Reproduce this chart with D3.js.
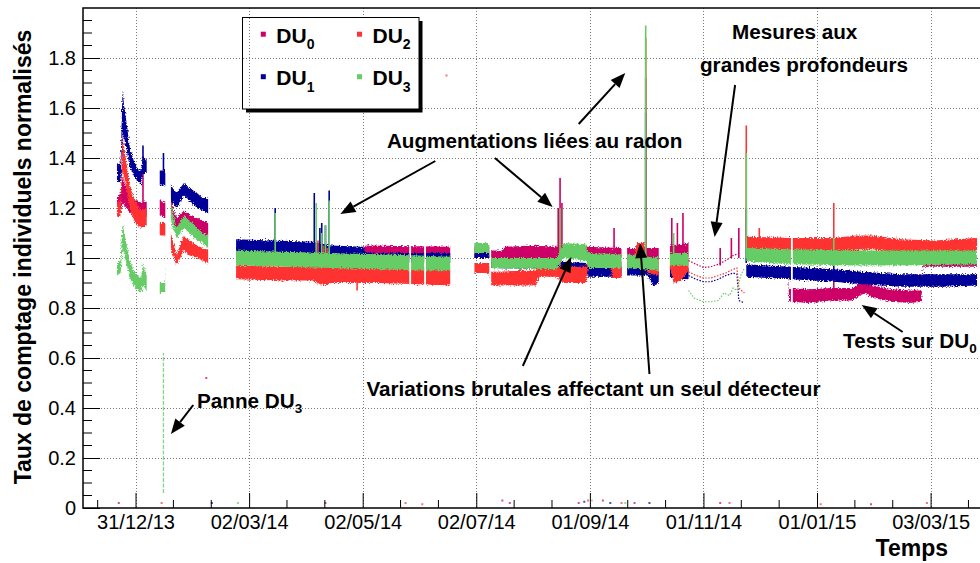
<!DOCTYPE html>
<html><head><meta charset="utf-8">
<script src="https://cdn.jsdelivr.net/npm/d3@7"></script>
<style>
html,body{margin:0;padding:0;background:#fff;}
svg{display:block;font-family:"Liberation Sans",Arial,Helvetica,sans-serif;}
</style></head><body>
<svg id="chart" width="980" height="563"></svg>
<script>
// ---- detectors ----
const seriesNames = ["DU", "DU", "DU", "DU"];
const seriesSubs = ["0", "1", "2", "3"];

// ---- axis ticks ----
const tickDates = ["2013-12-31","2014-03-02","2014-05-02","2014-07-02","2014-09-01","2014-11-01","2015-01-01","2015-03-03"];
const tickLabels = ["31/12/13","02/03/14","02/05/14","02/07/14","01/09/14","01/11/14","01/01/15","03/03/15"];
const yTickValues = [0,0.2,0.4,0.6,0.8,1,1.2,1.4,1.6,1.8];
const yTickLabels = ["0","0.2","0.4","0.6","0.8","1","1.2","1.4","1.6","1.8"];

// ---- acquisition periods (start, end) ----
const runs = [
  ["2013-12-21","2014-01-06"],["2014-01-13","2014-01-16"],["2014-01-19","2014-02-08"],
  ["2014-02-23","2014-05-27"],["2014-05-28","2014-06-04"],["2014-06-05","2014-06-18"],
  ["2014-07-01","2014-07-09"],["2014-07-10","2014-09-18"],["2014-09-21","2014-10-08"],
  ["2014-10-14","2014-10-24"],["2014-11-24","2014-12-18"],["2014-12-19","2015-03-28"]
];

// ---- normalised counting rate bands: [date, low, high] ----
const du0Band = [
  ["2013-12-21",1.17,1.24],["2013-12-23",1.18,1.26],["2013-12-24",1.22,1.33],["2013-12-26",1.20,1.28],
  ["2013-12-28",1.18,1.25],["2013-12-31",1.16,1.23],["2014-01-03",1.16,1.22],["2014-01-06",1.17,1.23],
  ["2014-01-13",1.17,1.23],["2014-01-16",1.16,1.22],
  ["2014-01-19",1.16,1.23],["2014-01-22",1.11,1.16],["2014-01-26",1.14,1.19],["2014-01-29",1.13,1.17],
  ["2014-02-02",1.11,1.16],["2014-02-05",1.10,1.15],["2014-02-08",1.09,1.14],
  ["2014-02-23",0.99,1.04],["2014-05-02",0.99,1.04],["2014-05-04",1.0,1.05],["2014-06-18",0.995,1.045],
  ["2014-07-01",1.0,1.05],["2014-07-09",1.0,1.045],["2014-07-10",0.99,1.03],["2014-07-16",0.99,1.03],
  ["2014-07-17",1.0,1.045],["2014-08-01",1.0,1.05],["2014-08-14",1.0,1.045],["2014-08-18",1.0,1.05],
  ["2014-08-30",1.0,1.045],["2014-09-18",1.0,1.04],["2014-09-21",1.0,1.04],["2014-10-08",0.99,1.04],
  ["2014-10-14",1.0,1.05],["2014-10-24",1.0,1.06],
  ["2014-11-24",1.03,1.07],["2014-12-16",1.03,1.07],["2014-12-17",0.825,0.88],["2014-12-28",0.82,0.875],
  ["2015-01-08",0.83,0.88],["2015-01-20",0.83,0.88],["2015-01-24",0.85,0.90],["2015-01-27",0.86,0.915],
  ["2015-01-31",0.84,0.89],["2015-02-10",0.825,0.875],["2015-02-20",0.82,0.87],["2015-02-26",0.825,0.87],
  ["2015-02-27",0.965,1.0],["2015-03-28",0.965,1.0]
];
const du1Band = [
  ["2013-12-21",1.30,1.37],["2013-12-23",1.31,1.38],["2013-12-24",1.50,1.67],["2013-12-25",1.48,1.60],
  ["2013-12-26",1.44,1.55],["2013-12-28",1.36,1.44],["2013-12-30",1.33,1.39],["2014-01-01",1.31,1.36],
  ["2014-01-03",1.29,1.35],["2014-01-04",1.34,1.41],["2014-01-06",1.34,1.39],
  ["2014-01-13",1.29,1.35],["2014-01-16",1.29,1.35],
  ["2014-01-19",1.23,1.29],["2014-01-22",1.20,1.26],["2014-01-26",1.25,1.30],["2014-01-29",1.23,1.28],
  ["2014-02-02",1.20,1.26],["2014-02-05",1.19,1.24],["2014-02-08",1.18,1.24],
  ["2014-02-23",1.025,1.075],["2014-03-15",1.025,1.07],["2014-04-05",1.02,1.065],["2014-04-15",1.005,1.05],
  ["2014-05-02",1.0,1.045],["2014-05-04",0.985,1.02],["2014-06-18",0.98,1.02],
  ["2014-07-01",1.0,1.02],["2014-07-09",1.0,1.02],["2014-07-10",0.96,0.99],["2014-08-14",0.955,0.985],
  ["2014-08-18",0.95,0.985],["2014-08-30",0.945,0.98],["2014-08-31",0.925,0.965],["2014-09-18",0.925,0.965],
  ["2014-09-21",0.93,0.975],["2014-10-02",0.93,0.97],["2014-10-05",0.89,0.94],["2014-10-08",0.90,0.95],
  ["2014-10-14",0.92,0.97],["2014-10-24",0.915,0.96],
  ["2014-11-24",0.925,0.975],["2014-12-18",0.915,0.965],["2015-01-10",0.905,0.955],["2015-01-25",0.895,0.945],
  ["2015-02-15",0.885,0.935],["2015-03-10",0.885,0.935],["2015-03-28",0.89,0.935]
];
const du2Band = [
  ["2013-12-21",1.16,1.22],["2013-12-23",1.17,1.23],["2013-12-24",1.35,1.49],["2013-12-25",1.32,1.44],
  ["2013-12-26",1.28,1.39],["2013-12-28",1.19,1.29],["2013-12-30",1.15,1.24],["2014-01-01",1.13,1.21],
  ["2014-01-03",1.12,1.19],["2014-01-06",1.13,1.20],
  ["2014-01-13",1.09,1.14],["2014-01-16",1.09,1.14],
  ["2014-01-19",1.03,1.10],["2014-01-22",0.97,1.01],["2014-01-26",1.03,1.09],["2014-01-29",1.01,1.07],
  ["2014-02-02",1.0,1.05],["2014-02-05",0.99,1.04],["2014-02-08",0.98,1.03],
  ["2014-02-23",0.915,0.97],["2014-03-20",0.91,0.965],["2014-04-05",0.91,0.965],["2014-04-07",0.90,1.0],
  ["2014-04-12",0.89,1.02],["2014-04-15",0.90,0.965],["2014-05-10",0.90,0.965],["2014-06-01",0.895,0.96],
  ["2014-06-18",0.89,0.955],
  ["2014-07-01",0.94,0.98],["2014-07-09",0.94,0.98],["2014-07-10",0.89,0.945],["2014-08-03",0.89,0.95],
  ["2014-08-05",0.925,0.965],["2014-08-14",0.925,0.965],["2014-08-18",0.90,0.965],["2014-08-30",0.90,0.965],
  ["2014-08-31",0.965,1.0],["2014-09-12",0.965,1.0],["2014-09-13",0.92,0.985],["2014-09-18",0.92,0.985],
  ["2014-09-21",0.97,1.0],["2014-09-25",0.97,1.0],["2014-09-26",1.0,1.06],["2014-09-30",1.0,1.06],
  ["2014-10-02",0.94,0.99],["2014-10-08",0.93,0.99],
  ["2014-10-14",0.96,1.0],["2014-10-16",0.90,0.98],["2014-10-20",0.91,0.97],["2014-10-24",0.95,1.0],
  ["2014-11-24",1.025,1.085],["2014-12-18",1.025,1.08],["2015-01-10",1.025,1.08],["2015-01-22",1.03,1.09],
  ["2015-01-30",1.035,1.09],["2015-02-15",1.02,1.075],["2015-03-05",1.02,1.07],["2015-03-28",1.025,1.08]
];
const du3Band = [
  ["2013-12-21",0.93,0.98],["2013-12-23",0.94,0.99],["2013-12-24",1.04,1.14],["2013-12-25",1.01,1.10],
  ["2013-12-26",0.98,1.06],["2013-12-28",0.92,0.99],["2013-12-30",0.89,0.95],["2014-01-01",0.87,0.93],
  ["2014-01-03",0.86,0.92],["2014-01-04",0.89,0.98],["2014-01-06",0.87,0.93],
  ["2014-01-13",0.86,0.90],["2014-01-16",0.86,0.90],
  ["2014-01-19",1.15,1.22],["2014-01-22",1.08,1.12],["2014-01-26",1.12,1.17],["2014-01-29",1.10,1.15],
  ["2014-02-02",1.07,1.12],["2014-02-05",1.06,1.10],["2014-02-08",1.04,1.09],
  ["2014-02-23",0.97,1.03],["2014-03-20",0.965,1.025],["2014-04-15",0.96,1.02],["2014-05-10",0.955,1.015],
  ["2014-06-01",0.95,1.01],["2014-06-18",0.95,1.005],
  ["2014-07-01",1.02,1.06],["2014-07-09",1.02,1.06],["2014-07-10",0.96,1.0],["2014-08-14",0.955,1.0],
  ["2014-08-18",1.0,1.06],["2014-08-30",0.99,1.055],["2014-08-31",0.96,1.02],["2014-09-18",0.96,1.015],
  ["2014-09-21",0.96,1.015],["2014-10-08",0.95,1.0],["2014-10-14",0.97,1.02],["2014-10-24",0.97,1.02],
  ["2014-11-24",0.985,1.04],["2014-12-18",0.975,1.035],["2015-01-20",0.97,1.03],["2015-02-15",0.97,1.03],
  ["2015-03-28",0.975,1.03]
];

// ---- short excursions: [date, from, to] ----
const du0Spikes = [
  ["2014-01-04",1.22,1.37],["2014-08-15",1.03,1.20],["2014-08-16",1.03,1.32],["2014-08-17",1.03,1.22],
  ["2014-09-14",1.03,1.12],["2014-10-01",1.0,1.72],["2014-10-15",1.03,1.16],["2014-10-18",1.03,1.14],
  ["2014-10-21",1.03,1.18],["2014-11-10",0.97,1.04],["2014-11-16",1.0,1.08],["2014-11-20",1.0,1.12],
  ["2015-01-10",0.87,0.93]
];
const du1Spikes = [
  ["2014-01-04",1.38,1.45],["2014-01-15",1.35,1.42],["2014-03-16",1.06,1.20],["2014-04-06",1.06,1.26],
  ["2014-04-09",1.05,1.12],["2014-04-10",1.05,1.14],["2014-04-12",1.05,1.13],["2014-04-14",1.05,1.27],
  ["2014-10-01",0.98,1.58],["2014-11-24",0.98,1.20],["2015-01-10",0.94,0.99]
];
const du2Spikes = [
  ["2014-04-08",0.97,1.07],["2014-04-11",0.97,1.05],["2014-04-13",0.97,1.04],["2014-04-29",0.87,0.93],
  ["2014-08-16",0.97,1.17],["2014-10-01",1.0,1.88],["2014-11-24",1.05,1.53],["2014-12-01",1.08,1.12],
  ["2015-01-10",1.08,1.22]
];
const du3Spikes = [
  ["2014-03-16",1.0,1.18],["2014-04-07",1.0,1.22],["2014-04-10",1.0,1.10],["2014-04-12",1.0,1.13],
  ["2014-04-14",1.0,1.23],["2014-08-16",1.0,1.20],["2014-10-01",1.0,1.93],["2014-10-16",1.0,1.10],
  ["2014-11-24",1.0,1.42],["2015-01-10",1.0,1.08]
];

// ---- low-statistics period (deep measurements): [date, value] ----
const du0Sparse = [["2014-10-24",0.99],["2014-10-28",0.975],["2014-11-01",0.962],["2014-11-05",0.965],["2014-11-09",0.975],["2014-11-13",0.99],["2014-11-17",1.01],["2014-11-21",1.02]];
const du1Sparse = [["2014-10-24",0.93],["2014-10-28",0.915],["2014-11-01",0.905],["2014-11-05",0.905],["2014-11-09",0.915],["2014-11-13",0.93],["2014-11-17",0.94],["2014-11-19",0.935],["2014-11-20",0.83],["2014-11-23",0.82]];
const du2Sparse = [["2014-10-24",0.945],["2014-10-28",0.93],["2014-11-01",0.92],["2014-11-05",0.92],["2014-11-09",0.93],["2014-11-13",0.94],["2014-11-17",0.955],["2014-11-19",0.96],["2014-11-20",0.88],["2014-11-23",0.86]];
const du3Sparse = [["2014-10-24",0.87],["2014-10-27",0.84],["2014-11-01",0.825],["2014-11-05",0.825],["2014-11-09",0.83],["2014-11-12",0.86],["2014-11-15",0.85],["2014-11-17",0.88],["2014-11-19",0.87],["2014-11-21",0.93],["2014-11-23",0.96]];

// ---- DU3 failure (readings falling to the floor) ----
const du3Failure = [["2014-01-15",0.06,0.62]];

// ---- isolated readings: [date, value] ----
const du0Stray = [["2013-12-22",0.02],["2014-02-07",0.52],["2014-04-12",0.02],["2014-07-16",0.03],["2014-07-20",0.02],["2014-08-26",0.02],["2014-09-08",0.03],["2014-09-25",0.02],["2014-11-10",0.02],["2015-01-30",0.015]];
const du1Stray = [["2014-02-10",0.02],["2014-08-29",0.025],["2014-09-12",0.02],["2014-10-03",0.02]];
const du2Stray = [["2014-01-14",0.02],["2014-05-25",0.02],["2014-06-03",0.015],["2014-06-16",1.73],["2014-08-31",0.03],["2014-09-18",0.02],["2014-11-15",0.02],["2015-01-03",0.015],["2015-03-01",0.02]];
const du3Stray = [["2014-02-24",0.02],["2014-09-02",0.03],["2014-09-20",0.02]];

// ---- annotations: text in data coordinates ----
const notes = [
  {text:"Augmentations liées au radon", date:"2014-05-15", value:1.439, anchor:"start"},
  {text:"Mesures aux", date:"2014-12-20", value:1.876, anchor:"middle"},
  {text:"grandes profondeurs", date:"2014-12-25", value:1.744, anchor:"middle"},
  {text:"Tests sur DU", sub:"0", date:"2015-01-15", value:0.639, anchor:"start"},
  {text:"Variations brutales affectant un seul détecteur", date:"2014-05-04", value:0.449, anchor:"start"},
  {text:"Panne DU", sub:"3", date:"2014-02-02", value:0.399, anchor:"start"}
];
// arrows: [fromDate, fromValue, toDate, toValue]
const arrows = [
  ["2014-06-10",1.388,"2014-04-20",1.176],
  ["2014-07-12",1.40,"2014-08-12",1.204],
  ["2014-08-26",1.536,"2014-09-20",1.74],
  ["2014-11-18",1.692,"2014-11-07",1.084],
  ["2015-02-16",0.704,"2015-01-25",0.812],
  ["2014-07-27",0.568,"2014-08-22",1.004],
  ["2014-10-03",0.536,"2014-09-28",1.06],
  ["2014-01-31",0.412,"2014-01-19",0.296]
];

// =================== drawing ===================
const colors = ["#cc0066","#000099","#ff3333","#66cc66"];
const parse = d3.timeParse("%Y-%m-%d");
const svg = d3.select("#chart");
const frame = {left:83, right:984, top:8, bottom:508};

const x = d3.scaleTime()
  .domain([parse("2013-12-03"), parse("2015-04-01")])
  .range([83.4, 984.6]);
const y = d3.scaleLinear().domain([0, 2]).range([508, 8]);

const defs = svg.append("defs");
const clip = defs.append("clipPath").attr("id","runs");
runs.forEach(r => {
  const a = x(parse(r[0])), b = x(parse(r[1]));
  clip.append("rect").attr("x", a).attr("y", frame.top).attr("width", b - a).attr("height", frame.bottom - frame.top);
});
// ragged edges of the counting-rate bands
const grain = defs.append("filter").attr("id","grain")
  .attr("filterUnits","userSpaceOnUse").attr("x",0).attr("y",0).attr("width",980).attr("height",563);
grain.append("feTurbulence").attr("type","fractalNoise").attr("baseFrequency","0.75")
  .attr("numOctaves",2).attr("seed",5).attr("result","n");
grain.append("feDisplacementMap").attr("in","SourceGraphic").attr("in2","n")
  .attr("scale",5).attr("xChannelSelector","R").attr("yChannelSelector","G");

// grid
const grid = svg.append("g").attr("stroke","#7a7a7a").attr("stroke-width",1).attr("stroke-dasharray","1 2");
tickDates.forEach(d => {
  const px = Math.round(x(parse(d))) + 0.5;
  grid.append("line").attr("x1",px).attr("x2",px).attr("y1",frame.top).attr("y2",frame.bottom);
});
yTickValues.filter(v => v > 0).forEach(v => {
  const py = Math.round(y(v)) + 0.5;
  grid.append("line").attr("x1",frame.left).attr("x2",frame.right).attr("y1",py).attr("y2",py);
});

// series
const bands = [du0Band, du1Band, du2Band, du3Band];
const spikes = [du0Spikes, du1Spikes, du2Spikes, du3Spikes];
const sparse = [du0Sparse, du1Sparse, du2Sparse, du3Sparse];
const strays = [du0Stray, du1Stray, du2Stray, du3Stray];

const area = d3.area()
  .x(d => x(parse(d[0])))
  .y0(d => y(d[1]))
  .y1(d => y(d[2]));
const line = d3.line().x(d => x(parse(d[0]))).y(d => y(d[1]));

const data = svg.append("g");
bands.forEach((band, i) => {
  const g = data.append("g");
  g.append("g").attr("clip-path","url(#runs)")
    .append("g").attr("filter","url(#grain)")
    .append("path").attr("d", area(band)).attr("fill", colors[i]);
  g.selectAll("line.spike").data(spikes[i]).join("line").attr("class","spike")
    .attr("x1", d => x(parse(d[0]))).attr("x2", d => x(parse(d[0])))
    .attr("y1", d => y(d[1])).attr("y2", d => y(d[2]))
    .attr("stroke", colors[i]).attr("stroke-width", 1.6);
});
sparse.forEach((s, i) => {
  data.append("path").attr("d", line(s)).attr("fill","none")
    .attr("stroke", colors[i]).attr("stroke-width", 1.2).attr("stroke-dasharray","1.5 1.5");
});
data.selectAll("line.fail").data(du3Failure).join("line").attr("class","fail")
  .attr("x1", d => x(parse(d[0]))).attr("x2", d => x(parse(d[0])))
  .attr("y1", d => y(d[1])).attr("y2", d => y(d[2]))
  .attr("stroke", colors[3]).attr("stroke-width", 1.3).attr("stroke-dasharray","4 1.5").attr("opacity",0.8);
strays.forEach((s, i) => {
  data.append("g").selectAll("rect").data(s).join("rect")
    .attr("x", d => x(parse(d[0])) - 1).attr("y", d => y(d[1]) - 1)
    .attr("width", 2).attr("height", 2).attr("fill", colors[i]).attr("opacity", 0.7);
});

// axes
const axisFont = g => g.attr("font-family","'Liberation Sans',Arial,sans-serif").attr("font-size",20);
const yAxis = svg.append("g").attr("transform",`translate(${frame.left},0)`)
  .call(d3.axisLeft(y).tickValues(yTickValues).tickFormat((d,i) => yTickLabels[i])
    .tickSizeInner(-17).tickSizeOuter(0).tickPadding(7))
  .call(axisFont);
yAxis.select(".domain").remove();
yAxis.selectAll("text").attr("fill","#000");
const yMinor = d3.range(0, 2.0001, 0.05).filter(v => Math.abs(v*5 - Math.round(v*5)) > 1e-6);
svg.append("g").selectAll("line").data(yMinor).join("line")
  .attr("x1", frame.left).attr("x2", frame.left + 9)
  .attr("y1", d => y(d)).attr("y2", d => y(d)).attr("stroke","#000");

const xAxis = svg.append("g").attr("transform",`translate(0,${frame.bottom})`)
  .call(d3.axisBottom(x).tickValues(tickDates.map(parse)).tickFormat((d,i) => tickLabels[i])
    .tickSizeInner(-15).tickSizeOuter(0).tickPadding(7))
  .call(axisFont);
xAxis.select(".domain").remove();
xAxis.selectAll("text").attr("fill","#000");
const t0 = parse(tickDates[0]).getTime(), t1 = parse(tickDates[1]).getTime();
const step = (t1 - t0) / 3;
const xMinor = d3.range(-3, tickDates.length * 3 + 3).filter(k => k % 3 !== 0)
  .map(k => new Date(t0 + k * step))
  .filter(d => x(d) > frame.left + 1 && x(d) < frame.right);
svg.append("g").selectAll("line").data(xMinor).join("line")
  .attr("x1", d => x(d)).attr("x2", d => x(d))
  .attr("y1", frame.bottom).attr("y2", frame.bottom - 8).attr("stroke","#000");

// frame
svg.append("path")
  .attr("d", `M${frame.right},${frame.top}H${frame.left}V${frame.bottom}H${frame.right}`)
  .attr("fill","none").attr("stroke","#000").attr("stroke-width",1.5);

// axis titles
svg.append("text").attr("transform","translate(31,257) rotate(-90)")
  .attr("text-anchor","middle").attr("font-size",23).attr("font-weight","bold")
  .text("Taux de comptage individuels normalisés");
svg.append("text").attr("x",948).attr("y",556).attr("text-anchor","end")
  .attr("font-size",23).attr("font-weight","bold").text("Temps");

// legend
const leg = svg.append("g");
leg.append("rect").attr("x",246).attr("y",21).attr("width",176.5).attr("height",91.5).attr("fill","#000");
leg.append("rect").attr("x",242.5).attr("y",17.5).attr("width",176.5).attr("height",91.5)
  .attr("fill","#fff").attr("stroke","#000").attr("stroke-width",1);
const legPos = [[263.3,34.2],[263.3,76.7],[359.5,34.2],[359.5,76.7]];
seriesNames.forEach((n, i) => {
  const [mx, my] = legPos[i];
  leg.append("rect").attr("x", mx - 2.5).attr("y", my - 2.5).attr("width",5).attr("height",5).attr("fill", colors[i]);
  const t = leg.append("text").attr("x", mx + 13).attr("y", my + 8.3)
    .attr("font-size",21).attr("font-weight","bold").text(n);
  t.append("tspan").attr("font-size",14).attr("dy",6.5).text(seriesSubs[i]);
});
// grid shows through the legend
const legGrid = leg.append("g").attr("stroke","#7a7a7a").attr("stroke-dasharray","1 2");
legGrid.append("line").attr("x1",Math.round(x(parse(tickDates[1])))+0.5).attr("x2",Math.round(x(parse(tickDates[1])))+0.5)
  .attr("y1",18).attr("y2",108.5);
[1.8,1.6].forEach(v => {
  const py = Math.round(y(v)) + 0.5;
  legGrid.append("line").attr("x1",243).attr("x2",418.5).attr("y1",py).attr("y2",py);
});

// annotations
const ann = svg.append("g").attr("font-size",20.7).attr("font-weight","bold");
notes.forEach(n => {
  const t = ann.append("text").attr("x", x(parse(n.date))).attr("y", y(n.value))
    .attr("text-anchor", n.anchor).text(n.text);
  if (n.sub) t.append("tspan").attr("font-size",13.5).attr("dy",5).text(n.sub);
});
arrows.forEach(a => {
  const x1 = x(parse(a[0])), y1 = y(a[1]), x2 = x(parse(a[2])), y2 = y(a[3]);
  const ang = Math.atan2(y2 - y1, x2 - x1), L = 15, w = 6;
  const bx = x2 - L * Math.cos(ang), by = y2 - L * Math.sin(ang);
  ann.append("line").attr("x1",x1).attr("y1",y1).attr("x2",bx).attr("y2",by)
    .attr("stroke","#000").attr("stroke-width",2);
  ann.append("path")
    .attr("d", `M${x2},${y2}L${bx + w*Math.sin(ang)},${by - w*Math.cos(ang)}L${bx - w*Math.sin(ang)},${by + w*Math.cos(ang)}Z`)
    .attr("fill","#000");
});
</script>
</body></html>
